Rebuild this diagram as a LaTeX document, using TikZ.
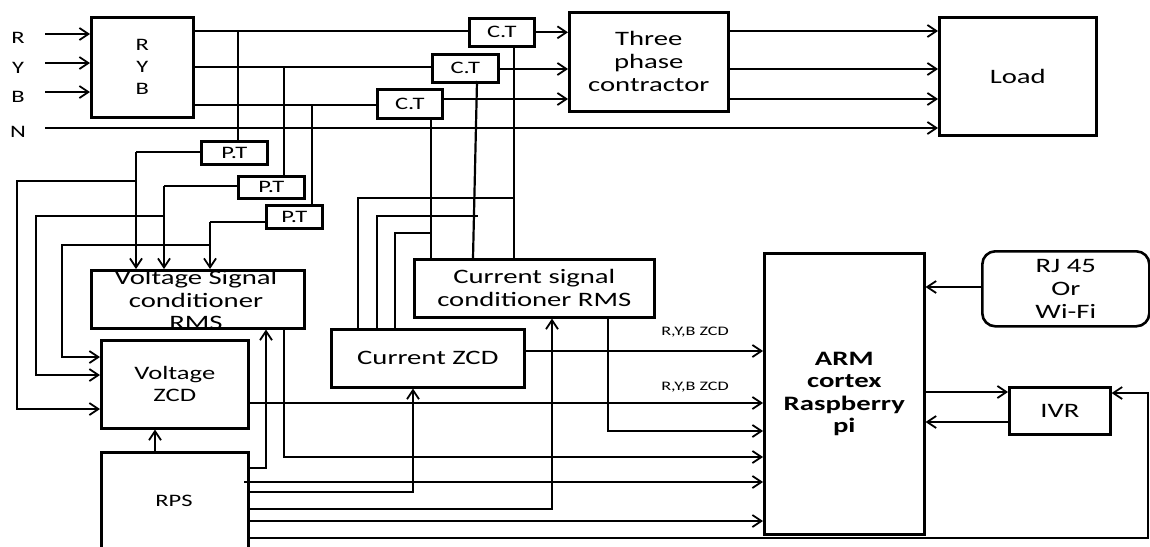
\documentclass[tikz,border=0pt]{standalone}
\usepackage{fontspec}
\setmainfont{Carlito}[FakeStretch=1.4]
\usetikzlibrary{arrows.meta}
\begin{document}
\begin{tikzpicture}[x=1pt,y=-1pt,
  ln/.style={line width=2.2pt},
  ar/.style={ln,-{Straight Barb[length=9pt,width=12pt,line width=1.8pt]}},
  blk/.style={draw,line width=2.6pt,inner sep=0pt,anchor=north west,align=center,font=\fontsize{20.5}{23}\selectfont},
  smb/.style={blk,font=\fontsize{17.5}{22}\selectfont},
  txt/.style={inner sep=0pt,align=center,font=\fontsize{20.5}{22.5}\selectfont},
  stxt/.style={inner sep=0pt,align=center,font=\fontsize{17.5}{22}\selectfont},
  lbl/.style={inner sep=0pt,font=\fontsize{13}{14}\selectfont},
]
\clip (0,0) rectangle (1150,546);
\fill[white] (0,0) rectangle (1150,546);

% ---------- boxes ----------
\node[smb,minimum width=102pt,minimum height=100pt] (ryb) at (90,16) {R\\Y\\B};
\node[smb,minimum width=65pt,minimum height=28pt] (ct1) at (468,17) {C.T};
\node[smb,minimum width=66pt,minimum height=28pt] (ct2) at (431,53) {C.T};
\node[smb,minimum width=65pt,minimum height=29pt] (ct3) at (376,88) {C.T};
\node[blk,minimum width=159pt,minimum height=99pt] (ctr) at (568,11) {Three\\phase\\contractor};
\node[blk,minimum width=157pt,minimum height=118pt] (load) at (938,16) {Load};
\node[smb,minimum width=66pt,minimum height=23pt] (pt1) at (200,140) {P.T};
\node[smb,minimum width=66pt,minimum height=22pt] (pt2) at (237,175) {P.T};
\node[smb,minimum width=56pt,minimum height=23pt] (pt3) at (265,204) {P.T};
\node[blk,minimum width=213pt,minimum height=58pt] (vsc) at (90,269) {};
\node[txt] (vsctext) at (196,300) {Voltage Signal\\conditioner\\RMS};
\node[blk,minimum width=147pt,minimum height=88pt,font=\fontsize{19}{22}\selectfont] (vzcd) at (100,339) {Voltage\\ZCD};
\node[smb,minimum width=147pt,minimum height=120pt] (rps) at (100,451) {};
\node[stxt] (rpstext) at (174,501) {RPS};
\node[blk,minimum width=193pt,minimum height=58pt] (czcd) at (330,328) {Current ZCD};
\node[blk,minimum width=240pt,minimum height=58pt] (csc) at (413,258) {Current signal\\conditioner RMS};
\node[blk,minimum width=160pt,minimum height=281pt,font=\fontsize{20.5}{22.5}\selectfont\bfseries] (arm) at (763,252) {ARM\\cortex\\Raspberry\\pi};
\node[blk,rounded corners=13pt,minimum width=167pt,minimum height=75pt] (rj) at (981,250) {RJ 45\\Or\\Wi-Fi};
\node[blk,minimum width=101pt,minimum height=47pt] (ivr) at (1008,386) {IVR};

% ---------- input labels ----------
\node[stxt] (lR) at (18,38) {R};
\node[stxt] (lY) at (18,68) {Y};
\node[stxt] (lB) at (18,97) {B};
\node[stxt] (lN) at (18,132) {N};
\coordinate (inR) at (45,34);
\coordinate (inY) at (45,63);
\coordinate (inB) at (45,92);
\coordinate (inN) at (45,128);
\draw[ar] (inR) -- (inR -| ryb.west);
\draw[ar] (inY) -- (inY -| ryb.west);
\draw[ar] (inB) -- (inB -| ryb.west);
\draw[ar] (inN) -- (inN -| load.west);

% ---------- phase lines ----------
\coordinate (rO) at (194,31);
\coordinate (yO) at (194,67);
\coordinate (bO) at (194,105);
\draw[ln] (rO) -- (rO -| ct1.west);
\draw[ln] (yO) -- (yO -| ct2.west);
\draw[ln] (bO) -- (bO -| ct3.west);
\coordinate (tR) at (238,31);
\coordinate (tY) at (284,67);
\coordinate (tB) at (312,105);
\draw[ln] (tR) -- (tR |- pt1.north);
\draw[ln] (tY) -- (tY |- pt2.north);
\draw[ln] (tB) -- (tB |- pt3.north);
\draw[ar] (ct1.east) -- (ct1.east -| ctr.west);
\coordinate (c2o) at (497,69);
\coordinate (c3o) at (441,99);
\draw[ar] (c2o) -- (c2o -| ctr.west);
\draw[ar] (c3o) -- (c3o -| ctr.west);
\coordinate (l1) at (727,31);
\coordinate (l2) at (727,69);
\coordinate (l3) at (727,99);
\draw[ar] (l1) -- (l1 -| load.west);
\draw[ar] (l2) -- (l2 -| load.west);
\draw[ar] (l3) -- (l3 -| load.west);

% ---------- CT to current blocks ----------
\coordinate (k1) at (514,45);
\coordinate (k2a) at (477,81);
\coordinate (k2b) at (473,258);
\coordinate (k3) at (431,117);
\draw[ln] (k1) -- (k1 |- csc.north);
\draw[ln] (k2a) -- (k2b);
\draw[ln] (k3) -- (k3 |- csc.north);
\coordinate (z1) at (358,328);
\coordinate (z2) at (377,328);
\coordinate (z3) at (395,328);
\draw[ln] (z1) -- (358,198) -- (514,198);
\draw[ln] (z2) -- (377,216) -- (478,216);
\draw[ln] (z3) -- (395,233) -- (431,233);

% ---------- PT to voltage blocks ----------
\coordinate (p1) at (136,152);
\coordinate (p2) at (164,186);
\coordinate (p3) at (210,222);
\draw[ln] (pt1.west |- p1) -- (p1);
\draw[ar] (p1) -- (p1 |- vsc.north);
\draw[ln] (pt2.west |- p2) -- (p2);
\draw[ar] (p2) -- (p2 |- vsc.north);
\draw[ln] (pt3.west |- p3) -- (p3);
\draw[ar] (p3) -- (p3 |- vsc.north);
\coordinate (b1) at (136,181);
\coordinate (b2) at (164,216);
\coordinate (b3) at (210,245);
\draw[ar] (b1) -- (17,181) -- (17,409) -- (vzcd.west |- 0,409);
\draw[ar] (b2) -- (36,216) -- (36,375) -- (vzcd.west |- 0,375);
\draw[ar] (b3) -- (62,245) -- (62,357) -- (vzcd.west |- 0,357);

% ---------- RPS outputs ----------
\draw[ar] (rps.north -| 155,0) -- (vzcd.south -| 155,0);
\coordinate (r1) at (247,468);
\coordinate (r2) at (244,482);
\coordinate (r3) at (247,492);
\coordinate (r4) at (247,509);
\coordinate (r5) at (247,521);
\coordinate (r6) at (247,538);
\draw[ar] (r1) -- (266,468) -- (vsc.south -| 266,0);
\draw[ar] (r2) -- (r2 -| arm.west);
\draw[ar] (r3) -- (413,492) -- (czcd.south -| 413,0);
\draw[ar] (r4) -- (552,509) -- (csc.south -| 552,0);
\draw[ar] (r5) -- (r5 -| arm.west);
\draw[ar] (r6) -- (1148,538) -- (1148,393) -- (ivr.east |- 0,393);

% ---------- signals to ARM ----------
\coordinate (v1) at (284,327);
\draw[ar] (v1) -- (284,457) -- (arm.west |- 0,457);
\coordinate (v2) at (247,403);
\draw[ar] (v2) -- (v2 -| arm.west);
\node[lbl] (zl1) at (695,387) {R,Y,B ZCD};
\coordinate (c1) at (523,351);
\draw[ar] (c1) -- (c1 -| arm.west);
\node[lbl] (zl2) at (695,332) {R,Y,B ZCD};
\coordinate (c2) at (608,316);
\draw[ar] (c2) -- (608,431) -- (arm.west |- 0,431);

% ---------- right side ----------
\draw[ar] (rj.west |- 0,287) -- (arm.east |- 0,287);
\draw[ar] (arm.east |- 0,392) -- (ivr.west |- 0,392);
\draw[ar] (ivr.west |- 0,422) -- (arm.east |- 0,422);
\end{tikzpicture}
\end{document}
